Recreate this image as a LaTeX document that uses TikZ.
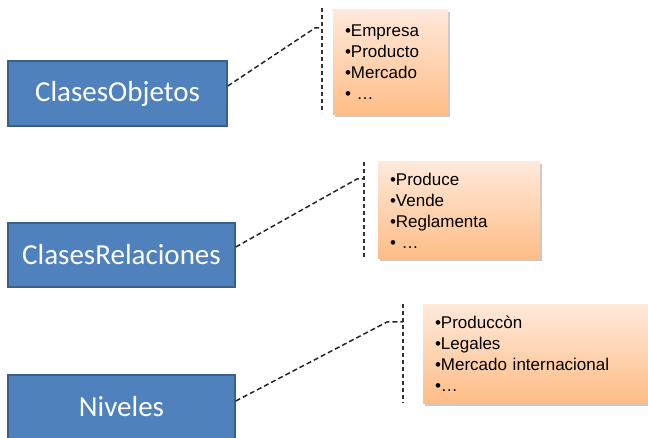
\documentclass[tikz,border=0pt]{standalone}
\usepackage{fontspec}
\setmainfont{Liberation Sans}
\newfontfamily\clasefont{Carlito}
\usetikzlibrary{shadows}
\definecolor{CBlue}{RGB}{79,129,189}
\definecolor{CBlueDark}{RGB}{58,95,140}
\definecolor{LTop}{RGB}{255,233,218}
\definecolor{LBottom}{RGB}{255,189,134}
\tikzset{
	clase/.style={draw=CBlueDark, line width=1.5pt, fill=CBlue, text=white,
		inner sep=0pt, font=\clasefont\fontsize{29}{34}\selectfont},
	lista/.style={top color=LTop, bottom color=LBottom, draw=none,
		drop shadow={shadow xshift=2pt, shadow yshift=-2.5pt, opacity=0.3, fill=black!70},
		align=left, inner xsep=12pt, inner ysep=0pt, font=\fontsize{17}{21}\selectfont},
	guia/.style={line width=1.5pt, draw=black!85, dash pattern=on 5pt off 3pt},
	corte/.style={line width=1.3pt, draw=black!80, dash pattern=on 4pt off 3pt}
}

\begin{document}
\begin{tikzpicture}[x=1pt, y=-1pt]
	\useasboundingbox (0,0) rectangle (648,438);
	% clases
	\node[clase, minimum width=219pt, minimum height=65pt] (obj) at (117.5,93.5) {ClasesObjetos};
	\node[clase, minimum width=227pt, minimum height=64pt] (rel) at (121.5,255) {ClasesRelaciones};
	\node[clase, minimum width=227pt, minimum height=64pt] (niv) at (121.5,407) {Niveles};
	% listas
	\node[lista, text width=91pt, minimum height=105pt] (lobj) at (390.5,62.5)
	{•Empresa\\•Producto\\•Mercado\\• …};
	\node[lista, text width=138pt, minimum height=97pt] (lrel) at (459,210.5)
	{•Produce\\•Vende\\•Reglamenta\\• …};
	\node[lista, text width=201pt, minimum height=98pt] (lniv) at (535.5,354)
	{•Produccòn\\•Legales\\•Mercado internacional\\•…};
	% guias
	\coordinate (c1) at (315,28);  \coordinate (m1) at (322,28);
	\coordinate (t1) at (322,8);   \coordinate (b1) at (322,113);
	\coordinate (c2) at (357,179); \coordinate (m2) at (364,179);
	\coordinate (t2) at (364,162); \coordinate (b2) at (364,259);
	\coordinate (c3) at (387,322); \coordinate (m3) at (403,322);
	\coordinate (t3) at (403,304); \coordinate (b3) at (403,403);
	\draw[corte] (t1) -- (b1);
	\draw[corte] (t2) -- (b2);
	\draw[corte] (t3) -- (b3);
	\draw[guia] ([yshift=7.5pt]obj.east) -- (c1) -- (m1);
	\draw[guia] ([yshift=8pt]rel.east) -- (c2) -- (m2);
	\draw[guia] ([yshift=6pt]niv.east) -- (c3) -- (m3);
\end{tikzpicture}
\end{document}
